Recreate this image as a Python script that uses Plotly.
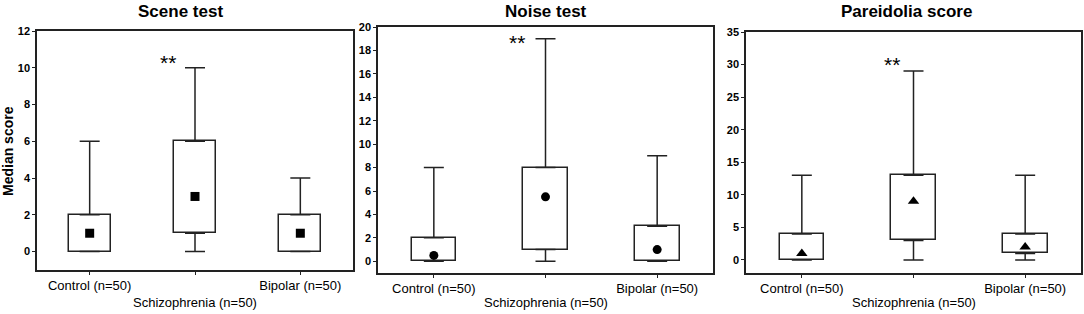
import plotly.graph_objects as go

groups = ["Control (n=50)", "Schizophrenia (n=50)", "Bipolar (n=50)"]
tick_text = ["Control (n=50)", "", "Bipolar (n=50)"]  # middle label is staggered below

titles = ["Scene test", "Noise test", "Pareidolia score"]

# per panel: min, q1, median, q3, max for Control, Schizophrenia, Bipolar
scene_min = [0, 0, 0]
scene_q1 = [0, 1, 0]
scene_med = [1, 3, 1]
scene_q3 = [2, 6, 2]
scene_max = [6, 10, 4]

noise_min = [0, 0, 0]
noise_q1 = [0, 1, 0]
noise_med = [0.5, 5.5, 1]
noise_q3 = [2, 8, 3]
noise_max = [8, 19, 9]

par_min = [0, 0, 0]
par_q1 = [0, 3, 1]
par_med = [1, 9, 2]
par_q3 = [4, 13, 4]
par_max = [13, 29, 13]

y_ranges = [[-1, 12], [-1, 20], [-2, 35]]
y_dticks = [2, 2, 5]
symbols = ["square", "circle", "triangle-up"]
marker_sizes = [9, 9, 10]
star_xshift = [-27, -29, -22]
star_yshift = [5, -4, 7]

panels = [
    (scene_min, scene_q1, scene_med, scene_q3, scene_max),
    (noise_min, noise_q1, noise_med, noise_q3, noise_max),
    (par_min, par_q1, par_med, par_q3, par_max),
]

W, H = 1084, 314
x_px = [(37, 353), (378, 713), (746, 1081)]
y_px = [(31, 270), (27, 273), (32, 273)]

LINE = "#222222"
fig = go.Figure()
xs = [0, 1, 2]

for i, (mn, q1, med, q3, mx) in enumerate(panels):
    xa = "x" if i == 0 else f"x{i+1}"
    ya = "y" if i == 0 else f"y{i+1}"
    fig.add_trace(go.Bar(
        x=xs, y=[b - a for a, b in zip(q1, q3)], base=q1, width=0.4,
        marker=dict(color="white", line=dict(color=LINE, width=1.5)),
        xaxis=xa, yaxis=ya, showlegend=False, hoverinfo="skip"))
    # upper whiskers
    fig.add_trace(go.Scatter(
        x=xs, y=q3, mode="markers", marker=dict(size=1, color="rgba(0,0,0,0)"),
        error_y=dict(type="data", symmetric=False,
                     array=[b - a for a, b in zip(q3, mx)], arrayminus=[0, 0, 0],
                     width=10, thickness=1.5, color=LINE),
        xaxis=xa, yaxis=ya, showlegend=False, hoverinfo="skip"))
    # lower whiskers
    fig.add_trace(go.Scatter(
        x=xs, y=q1, mode="markers", marker=dict(size=1, color="rgba(0,0,0,0)"),
        error_y=dict(type="data", symmetric=False,
                     array=[0, 0, 0], arrayminus=[a - b for a, b in zip(q1, mn)],
                     width=10, thickness=1.5, color=LINE),
        xaxis=xa, yaxis=ya, showlegend=False, hoverinfo="skip"))
    # medians
    fig.add_trace(go.Scatter(
        x=xs, y=med, mode="markers",
        marker=dict(symbol=symbols[i], size=marker_sizes[i], color="black"),
        xaxis=xa, yaxis=ya, showlegend=False, hoverinfo="skip"))

    x0, x1 = x_px[i]
    yt, yb = y_px[i]
    axis_common = dict(showline=True, linecolor=LINE, linewidth=1.5, mirror=True,
                       ticks="outside", ticklen=3, tickcolor=LINE, tickwidth=1,
                       showgrid=False, zeroline=False, automargin=False)
    fig.update_layout(**{
        ("xaxis" if i == 0 else f"xaxis{i+1}"): dict(
            domain=[x0 / W, x1 / W], range=[-0.5, 2.5], anchor=ya,
            tickvals=xs, ticktext=tick_text, tickangle=0,
            tickfont=dict(family="Liberation Sans, Arial", size=13, color="black"),
            **axis_common),
        ("yaxis" if i == 0 else f"yaxis{i+1}"): dict(
            domain=[1 - yb / H, 1 - yt / H], range=y_ranges[i], anchor=xa,
            dtick=y_dticks[i], tick0=0,
            tickfont=dict(family="Liberation Sans", size=11, color="black", weight="bold"),
            **axis_common),
    })
    # staggered middle category label
    fig.add_annotation(text=groups[1], xref=xa, yref="paper", x=1, y=1 - 302 / H,
                       showarrow=False, xanchor="center", yanchor="middle",
                       font=dict(family="Liberation Sans, Arial", size=13, color="black"))
    # title
    fig.add_annotation(text=f"<b>{titles[i]}</b>", xref="paper", yref="paper",
                       x=[180, 546, 906][i] / W, y=1 - 12 / H, showarrow=False,
                       xanchor="center", yanchor="middle",
                       font=dict(family="Liberation Sans, Arial", size=17, color="black"))
    # significance stars
    fig.add_annotation(text="**", xref=xa, yref=ya, x=1, y=mx[1], showarrow=False,
                       xanchor="center", yanchor="middle",
                       xshift=star_xshift[i], yshift=star_yshift[i],
                       font=dict(family="Liberation Sans, Arial", size=21, color="black"))

fig.add_annotation(text="<b>Median score</b>", xref="paper", yref="paper",
                   x=8 / W, y=1 - 151 / H, showarrow=False, textangle=-90,
                   xanchor="center", yanchor="middle",
                   font=dict(family="Liberation Sans, Arial", size=14, color="black"))

fig.update_layout(width=W, height=H, margin=dict(l=0, r=0, t=0, b=0),
                  paper_bgcolor="white", plot_bgcolor="white", bargap=0)
fig.write_html("out.html", config={"displayModeBar": False},
               post_script="document.body.style.margin='0px';")
